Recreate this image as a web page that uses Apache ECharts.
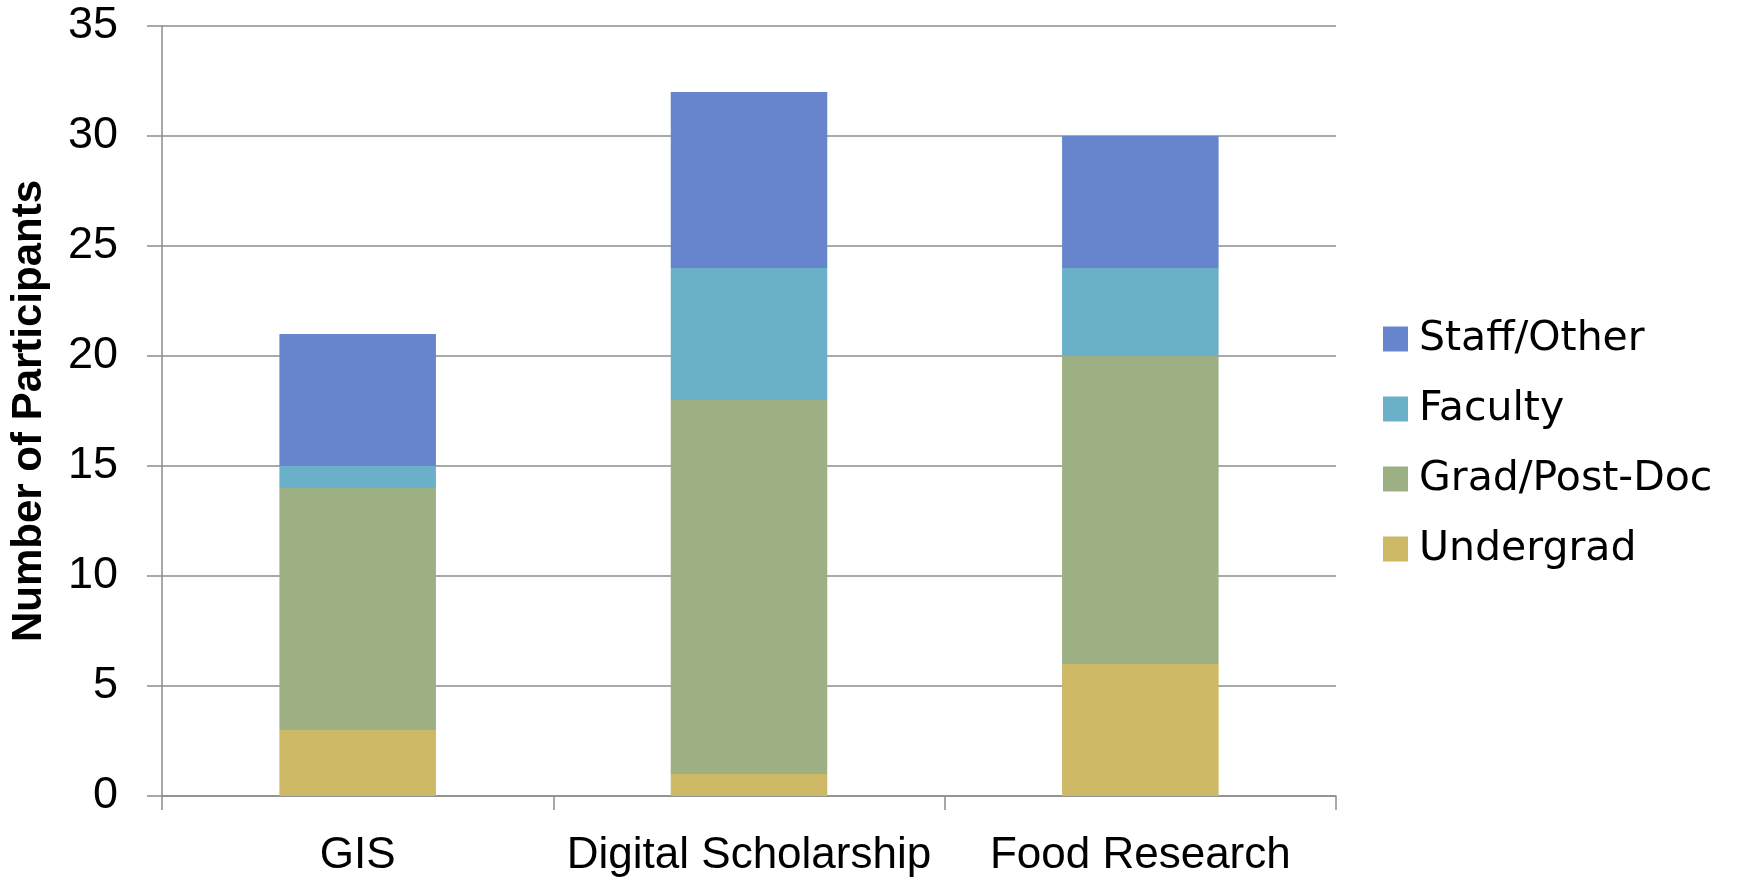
<!DOCTYPE html>
<html>
<head>
<meta charset="utf-8">
<script src="https://cdn.jsdelivr.net/npm/echarts@6/dist/echarts.min.js"></script>
<style>
html,body{margin:0;padding:0;background:#fff;}
#c{width:1738px;height:878px;}
</style>
</head>
<body>
<div id="c"></div>
<script>
const categories = ["GIS", "Digital Scholarship", "Food Research"];
const undergrad = [3, 1, 6];
const gradPostDoc = [11, 17, 14];
const faculty = [1, 6, 4];
const staffOther = [6, 8, 6];
const yTicks = [0, 5, 10, 15, 20, 25, 30, 35];

const gray = '#8c8c8c';
const chart = echarts.init(document.getElementById('c'));
function bar(name, data, color) {
  return { name, type: 'bar', stack: 'total', data, barWidth: '40%',
    itemStyle: { color }, emphasis: { disabled: true } };
}
chart.setOption({
  animation: false,
  backgroundColor: '#fff',
  grid: { left: 162, right: 402, top: 26, bottom: 82 },
  legend: {
    orient: 'vertical', left: 1378, top: 309,
    data: ['Staff/Other', 'Faculty', 'Grad/Post-Doc', 'Undergrad'],
    icon: 'rect', itemWidth: 25, itemHeight: 25, itemGap: 20,
    textStyle: { fontFamily: 'DejaVu Sans', fontSize: 41, color: '#000', lineHeight: 50, padding: [0, 0, 0, 6] }
  },
  xAxis: {
    type: 'category', data: categories,
    axisLine: { lineStyle: { color: gray, width: 1.5 } },
    axisTick: { show: true, interval: 0, length: 14, lineStyle: { color: gray, width: 1.5 } },
    axisLabel: { interval: 0, fontFamily: 'Liberation Sans', fontSize: 44, color: '#000', margin: 38 }
  },
  yAxis: {
    type: 'value', min: yTicks[0], max: yTicks[yTicks.length - 1], interval: 5,
    name: 'Number of Participants', nameLocation: 'middle', nameGap: 112,
    nameTextStyle: { fontFamily: 'Liberation Sans', fontSize: 42, fontWeight: 'bold', color: '#000' },
    axisLine: { show: true, lineStyle: { color: gray, width: 1.5 } },
    axisTick: { show: true, length: 15, lineStyle: { color: gray, width: 1.5 } },
    splitLine: { lineStyle: { color: gray, width: 1.5 } },
    axisLabel: { fontFamily: 'Liberation Sans', fontSize: 45, color: '#000', margin: 44 }
  },
  series: [
    bar('Undergrad', undergrad, '#cdb866'),
    bar('Grad/Post-Doc', gradPostDoc, '#9db083'),
    bar('Faculty', faculty, '#6ab0c8'),
    bar('Staff/Other', staffOther, '#6685cd')
  ]
});
</script>
</body>
</html>
